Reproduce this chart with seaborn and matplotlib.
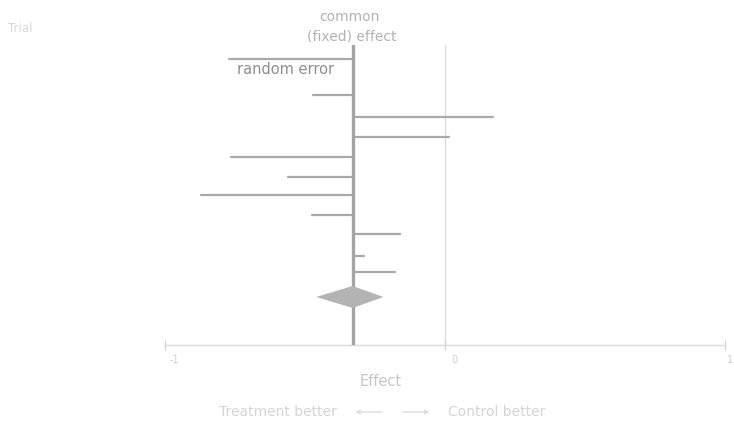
import numpy as np
import pandas as pd
import matplotlib
matplotlib.use("Agg")
import matplotlib.pyplot as plt
import matplotlib.transforms as mtrans
from matplotlib.patches import FancyArrowPatch
import seaborn as sns

# trial estimates (effect scale) and their row in the plot
trial_effect = [-0.77, -0.47, 0.17, 0.015, -0.765, -0.56, -0.87, -0.475, -0.16, -0.29, -0.18]
trial_row = [0, 1.8, 2.9, 3.9, 4.9, 5.9, 6.8, 7.8, 8.75, 9.85, 10.65]
fixed_effect = -0.33
pooled_lo, pooled_hi = -0.46, -0.22
pooled_row = 11.9
x_ticks = [-1, 0, 1]

sns.set_style("white")
plt.rcParams['font.family'] = ['DejaVu Sans']

fig = plt.figure(figsize=(7.34, 4.28), dpi=100)
ax = fig.add_axes([165 / 734, 1 - 345 / 428, 560 / 734, 300 / 428])

line_col = '#a9a9a9'

# random error segments: from common effect to each trial estimate
seg = pd.DataFrame({
    'trial': np.repeat(np.arange(len(trial_effect)), 2),
    'x': np.ravel([[fixed_effect, e] for e in trial_effect]),
    'y': np.repeat(trial_row, 2),
})
sns.lineplot(data=seg, x='x', y='y', units='trial', estimator=None, sort=False,
             color=line_col, lw=1.6, ax=ax, legend=False)

# line of no effect
ax.axvline(0, color='#dadada', lw=0.9, zorder=0)
# common (fixed) effect
ax.axvline(fixed_effect, color='#a4a4a4', lw=2.4, zorder=3)

# pooled diamond
ax.fill([pooled_lo, fixed_effect, pooled_hi, fixed_effect],
        [pooled_row, pooled_row - 0.55, pooled_row, pooled_row + 0.55],
        color='#b3b3b3', lw=0, zorder=4)

ax.set_xlim(-1, 1)
ax.set_ylim(14.3, -0.7)
ax.set_yticks([])
ax.set_xticks(x_ticks)
ax.set_xticklabels([str(t) for t in x_ticks], ha='left', color='#cfcfcf', fontsize=7)
ax.tick_params(axis='x', bottom=True, direction='inout', length=7, width=1.0,
               color='#d6d6d6', pad=4)
for lab, dx in zip(ax.get_xticklabels(), [5, 6, 2]):
    shift = mtrans.ScaledTranslation(dx / 100, 0, fig.dpi_scale_trans)
    lab.set_transform(lab.get_transform() + shift)
ax.set_xlabel('')
ax.set_ylabel('')
sns.despine(ax=ax, left=True)
ax.spines['bottom'].set_color('#dadada')
ax.spines['bottom'].set_linewidth(1.0)

fig.text(381 / 734, 1 - 382 / 428, 'Effect', ha='center', va='center',
         color='#c6c6c6', fontsize=10.5)
fig.text(8 / 734, 1 - 29 / 428, 'Trial', ha='left', va='center',
         color='#d8d8d8', fontsize=8.5)
fig.text(349 / 734, 1 - 17 / 428, 'common', ha='center', va='center',
         color='#b2b2b2', fontsize=10)
fig.text(352 / 734, 1 - 37 / 428, '(fixed) effect', ha='center', va='center',
         color='#b2b2b2', fontsize=10)
fig.text(237 / 734, 1 - 70 / 428, 'random error', ha='left', va='center',
         color='#8e8e8e', fontsize=10.5)

# direction legend under the axis
txt_col = '#d4d4d4'
fig.text(337 / 734, 1 - 412 / 428, 'Treatment better', ha='right', va='center',
         color=txt_col, fontsize=10)
fig.text(448 / 734, 1 - 412 / 428, 'Control better', ha='left', va='center',
         color=txt_col, fontsize=10)
arrow = dict(arrowstyle='->', color='#d8d8d8', lw=0.9)
fig.add_artist(FancyArrowPatch((385 / 734, 1 - 412 / 428), (353 / 734, 1 - 412 / 428),
                               transform=fig.transFigure, mutation_scale=6, **arrow))
fig.add_artist(FancyArrowPatch((400 / 734, 1 - 412 / 428), (432 / 734, 1 - 412 / 428),
                               transform=fig.transFigure, mutation_scale=6, **arrow))

fig.savefig('out.png', dpi=100)
